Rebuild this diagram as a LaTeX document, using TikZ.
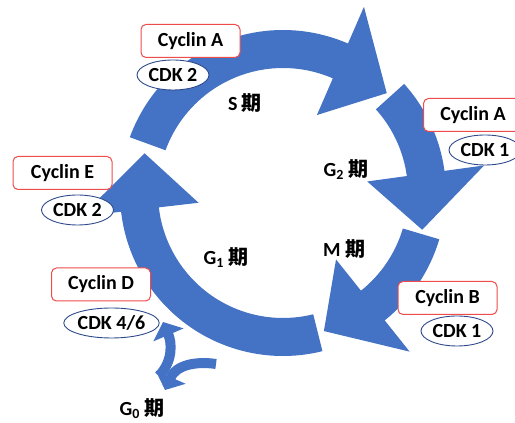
\documentclass[tikz,border=0pt]{standalone}
\usepackage{fontspec}
\setmainfont{Carlito}
\newfontfamily\cjk{Noto Sans CJK SC}
\usepackage{tikz}
\usetikzlibrary{positioning}
\usetikzlibrary{shapes.geometric}
\usetikzlibrary{arrows.meta}

\definecolor{cycleblue}{HTML}{4472C4}
\definecolor{boxred}{HTML}{F04B4B}
\definecolor{ovalblue}{HTML}{2F4A8C}

% one ring segment: start angle, head base angle, tip angle
\newcommand{\phasearrow}[3]{%
	\fill[cycleblue] (#1:163) arc[start angle=#1, end angle=#2, radius=163]
		-- (#2:203) -- (#3:144) -- (#2:85) -- (#2:125)
		arc[start angle=#2, end angle=#1, radius=125] -- cycle;}

\begin{document}
\begin{tikzpicture}[x=1pt, y=1pt,
		every node/.style={font=\fontsize{20}{24}\selectfont\bfseries},
		cyclin/.style={draw=boxred, fill=white, rounded corners=5pt, line width=1pt, minimum width=99pt, minimum height=33pt, inner sep=0pt},
		cdk/.style={ellipse, draw=ovalblue, fill=white, line width=0.9pt, minimum width=72pt, minimum height=30pt, inner sep=0pt},
		g0arrow/.style={draw=cycleblue, line width=10pt, -{Triangle[length=14pt, width=32pt]}}]
				\useasboundingbox (0,0) rectangle (515,423);
				\clip (0,0) rectangle (515,423);

				% ring
				\begin{scope}[shift={(283,230)}]
					\phasearrow{160}{66.5}{43.9}
					\phasearrow{42}{7.8}{-14.8}
					\phasearrow{-16.5}{-51.4}{-73.5}
					\phasearrow{-76}{-173.4}{-196}
				\end{scope}

				% phases
				\node (s) at (245,320) {S {\cjk 期}};
				\node (g2) at (346,253) {G\textsubscript{2} {\cjk 期}};
				\node (m) at (344,174) {M {\cjk 期}};
				\node (g1) at (226,165) {G\textsubscript{1} {\cjk 期}};
				\node (g0) at (142,14) {G\textsubscript{0} {\cjk 期}};

				% cyclins and cdks
				\node[cyclin] (cycA1) at (190.5,382) {Cyclin A};
				\node[cdk] (cdk2a) at (173,348) {CDK 2};
				\node[cyclin] (cycA2) at (473,308) {Cyclin A};
				\node[cdk] (cdk1a) at (485,273) {CDK 1};
				\node[cyclin] (cycE) at (62.5,250) {Cyclin E};
				\node[cdk] (cdk2b) at (77.5,213) {CDK 2};
				\node[cyclin] (cycD) at (101,138.5) {Cyclin D};
				\node[cdk] (cdk46) at (111.5,100) {CDK 4/6};
				\node[cyclin] (cycB) at (447.5,125) {Cyclin B};
				\node[cdk] (cdk1b) at (457,92) {CDK 1};

				% G0 arrows
				\coordinate (g0in) at (159,47);
				\coordinate (g0out) at (163,101);
				\coordinate (g0from) at (216,59);
				\coordinate (g0to) at (165,33);
				\draw[g0arrow] (g0in) .. controls (173,62) and (172,80) .. (g0out);
				\draw[g0arrow] (g0from) .. controls (196,62) and (176,58) .. (g0to);
\end{tikzpicture}
\end{document}
